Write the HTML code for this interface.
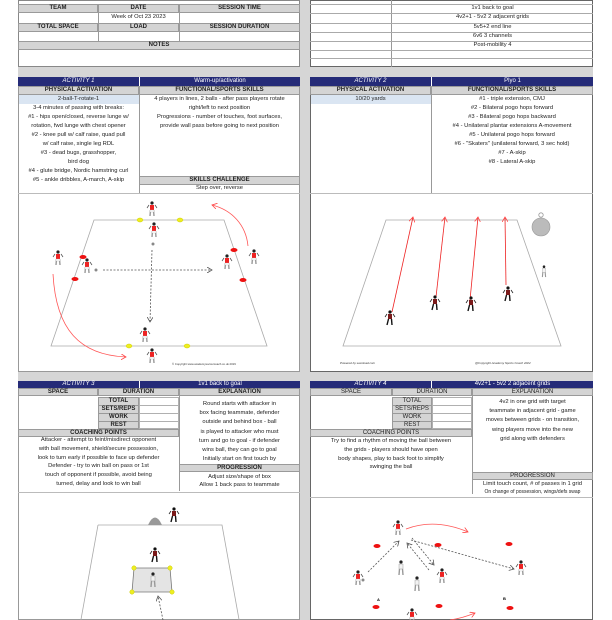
<!DOCTYPE html>
<html><head><meta charset="utf-8"><style>
*{margin:0;padding:0;box-sizing:border-box}
body{width:612px;height:620px;overflow:hidden;background:#fff;position:relative;font-family:"Liberation Sans",sans-serif;color:#222}
.a{position:absolute}
.g{position:absolute;background:#d4d4d4;border:1px solid #9a9a9a;font-size:6px;font-weight:bold;text-align:center;line-height:7px;color:#222}
.n{position:absolute;background:#252b78;color:#fff;font-size:6px;text-align:center;line-height:8px}
.w{position:absolute;background:#fff;border:1px solid #b0b0b0}
.t{position:absolute;font-size:5.8px;text-align:center;line-height:9px;white-space:nowrap;color:#222}
.lb{position:absolute;background:#dae5f2}
</style></head><body>
<div class="a" style="left:18px;top:0;width:575px;height:620px;background:#d6d6d6"></div>
<div class="a" style="left:52px;top:0;width:7px;height:3px;background:#111;border-radius:0 0 4px 4px"></div>

<div class="w" style="left:18px;top:0;width:282px;height:67px;border-color:#888"></div>
<div class="g" style="left:18px;top:4px;width:80px;height:9px">TEAM</div>
<div class="g" style="left:98px;top:4px;width:81px;height:9px">DATE</div>
<div class="g" style="left:179px;top:4px;width:121px;height:9px">SESSION TIME</div>
<div class="t" style="left:98px;top:13px;width:81px">Week of Oct 23 2023</div>
<div class="a" style="left:98px;top:13px;width:1px;height:10px;background:#999"></div>
<div class="a" style="left:179px;top:13px;width:1px;height:10px;background:#999"></div>
<div class="g" style="left:18px;top:23px;width:80px;height:9px">TOTAL SPACE</div>
<div class="g" style="left:98px;top:23px;width:81px;height:9px">LOAD</div>
<div class="g" style="left:179px;top:23px;width:121px;height:9px">SESSION DURATION</div>
<div class="a" style="left:98px;top:32px;width:1px;height:9px;background:#999"></div>
<div class="a" style="left:179px;top:32px;width:1px;height:9px;background:#999"></div>
<div class="g" style="left:18px;top:41px;width:282px;height:9px">NOTES</div>

<div class="w" style="left:310px;top:0;width:283px;height:67px;border-color:#666"></div>
<div class="a" style="left:391px;top:0;width:1px;height:67px;background:#999"></div>
<div class="a" style="left:310px;top:4px;width:283px;height:1px;background:#aaa"></div>
<div class="a" style="left:310px;top:13px;width:283px;height:1px;background:#aaa"></div>
<div class="a" style="left:310px;top:23px;width:283px;height:1px;background:#aaa"></div>
<div class="a" style="left:310px;top:32px;width:283px;height:1px;background:#aaa"></div>
<div class="a" style="left:310px;top:41px;width:283px;height:1px;background:#aaa"></div>
<div class="a" style="left:310px;top:50px;width:283px;height:1px;background:#aaa"></div>
<div class="a" style="left:310px;top:58px;width:283px;height:1px;background:#aaa"></div>
<div class="t" style="left:392px;top:-5px;width:201px">Plyo 1</div>
<div class="t" style="left:392px;top:4px;width:201px">1v1 back to goal</div>
<div class="t" style="left:392px;top:13px;width:201px">4v2+1 - 5v2 2 adjacent grids</div>
<div class="t" style="left:392px;top:23px;width:201px">5v5+2 end line</div>
<div class="t" style="left:392px;top:32px;width:201px">6v6 3 channels</div>
<div class="t" style="left:392px;top:41px;width:201px">Post-mobility 4</div>

<div class="w" style="left:18px;top:77px;width:282px;height:295px;border-color:#999"></div>
<div class="n" style="left:18px;top:77px;width:121px;height:9px;font-style:italic">ACTIVITY 1</div>
<div class="n" style="left:139px;top:77px;width:161px;height:9px;border-left:1px solid #fff">Warm-up/activation</div>
<div class="g" style="left:18px;top:86px;width:121px;height:9px">PHYSICAL ACTIVATION</div>
<div class="g" style="left:139px;top:86px;width:161px;height:9px">FUNCTIONAL/SPORTS SKILLS</div>
<div class="lb" style="left:19px;top:95px;width:120px;height:9px"></div>
<div class="t" style="left:18px;top:95px;width:121px">2-ball-T-rotate-1</div>
<div class="t" style="left:18px;top:104px;width:121px">3-4 minutes of passing with breaks:<br>#1 - hips open/closed, reverse lunge w/<br>rotation, fwd lunge with chest opener<br>#2 - knee pull w/ calf raise, quad pull<br>w/ calf raise, single leg RDL<br>#3 - dead bugs, grasshopper,<br>bird dog<br>#4 - glute bridge, Nordic hamstring curl<br>#5 - ankle dribbles, A-march, A-skip</div>
<div class="a" style="left:139px;top:95px;width:1px;height:99px;background:#999"></div>
<div class="t" style="left:139px;top:95px;width:161px">4 players in lines, 2 balls - after pass players rotate<br>right/left to next position<br>Progressions - number of touches, foot surfaces,<br>provide wall pass before going to next position</div>
<div class="g" style="left:139px;top:176px;width:161px;height:9px">SKILLS CHALLENGE</div>
<div class="t" style="left:139px;top:184px;width:161px">Step over, reverse</div>
<div class="a" style="left:18px;top:193px;width:282px;height:1px;background:#bbb"></div>

<div class="w" style="left:310px;top:77px;width:283px;height:295px;border-color:#666"></div>
<div class="n" style="left:310px;top:77px;width:121px;height:9px;font-style:italic">ACTIVITY 2</div>
<div class="n" style="left:431px;top:77px;width:162px;height:9px;border-left:1px solid #fff">Plyo 1</div>
<div class="g" style="left:310px;top:86px;width:121px;height:9px">PHYSICAL ACTIVATION</div>
<div class="g" style="left:431px;top:86px;width:162px;height:9px">FUNCTIONAL/SPORTS SKILLS</div>
<div class="lb" style="left:311px;top:95px;width:120px;height:9px"></div>
<div class="t" style="left:310px;top:95px;width:121px">10/20 yards</div>
<div class="a" style="left:431px;top:95px;width:1px;height:99px;background:#999"></div>
<div class="t" style="left:431px;top:95px;width:162px">#1 - triple extension, CMJ<br>#2 - Bilateral pogo hops forward<br>#3 - Bilateral pogo hops backward<br>#4 - Unilateral plantar extensions A-movement<br>#5 - Unilateral pogo hops forward<br>#6 - "Skaters" (unilateral forward, 3 sec hold)<br>#7 - A-skip<br>#8 - Lateral A-skip</div>
<div class="a" style="left:310px;top:193px;width:283px;height:1px;background:#bbb"></div>

<div class="w" style="left:18px;top:381px;width:282px;height:239px;border-color:#999"></div>
<div class="n" style="left:18px;top:381px;width:121px;height:8px;font-style:italic;line-height:7px">ACTIVITY 3</div>
<div class="n" style="left:139px;top:381px;width:161px;height:8px;line-height:7px;border-left:1px solid #fff">1v1 back to goal</div>
<div class="g" style="left:18px;top:388px;width:80px;height:8px">SPACE</div>
<div class="g" style="left:98px;top:388px;width:81px;height:8px">DURATION</div>
<div class="g" style="left:179px;top:388px;width:121px;height:8px">EXPLANATION</div>
<div class="g" style="left:98px;top:397px;width:41px;height:9px">TOTAL</div>
<div class="g" style="left:98px;top:405px;width:41px;height:9px">SETS/REPS</div>
<div class="g" style="left:98px;top:413px;width:41px;height:9px">WORK</div>
<div class="g" style="left:98px;top:421px;width:41px;height:8px">REST</div>
<div class="w" style="left:139px;top:397px;width:40px;height:9px"></div>
<div class="w" style="left:139px;top:405px;width:40px;height:9px"></div>
<div class="w" style="left:139px;top:413px;width:40px;height:9px"></div>
<div class="w" style="left:139px;top:421px;width:40px;height:8px"></div>
<div class="g" style="left:18px;top:429px;width:161px;height:8px">COACHING POINTS</div>
<div class="a" style="left:179px;top:396px;width:1px;height:95px;background:#999"></div>
<div class="t" style="left:18px;top:436px;width:161px;line-height:8.8px">Attacker - attempt to feint/misdirect opponent<br>with ball movement, shield/secure possession,<br>look to turn early if possible to face up defender<br>Defender - try to win ball on pass or 1st<br>touch of opponent if possible, avoid being<br>turned, delay and look to win ball</div>
<div class="t" style="left:179px;top:400px;width:121px;line-height:9.2px">Round starts with attacker in<br>box facing teammate, defender<br>outside and behind box - ball<br>is played to attacker who must<br>turn and go to goal - if defender<br>wins ball, they can go to goal<br>Initially start on first touch by<br>receiver, advance to start on pass</div>
<div class="g" style="left:179px;top:464px;width:121px;height:8px">PROGRESSION</div>
<div class="t" style="left:179px;top:473px;width:121px;line-height:8px">Adjust size/shape of box<br>Allow 1 back pass to teammate</div>
<div class="a" style="left:18px;top:492px;width:282px;height:1px;background:#bbb"></div>

<div class="w" style="left:310px;top:381px;width:283px;height:239px;border-color:#666"></div>
<div class="n" style="left:310px;top:381px;width:121px;height:8px;font-style:italic;line-height:7px">ACTIVITY 4</div>
<div class="n" style="left:431px;top:381px;width:162px;height:8px;line-height:7px;border-left:1px solid #fff">4v2+1 - 5v2 2 adjacent grids</div>
<div class="g" style="left:310px;top:388px;width:82px;height:8px;font-weight:normal">SPACE</div>
<div class="g" style="left:392px;top:388px;width:80px;height:8px;font-weight:normal">DURATION</div>
<div class="g" style="left:472px;top:388px;width:121px;height:8px;font-weight:normal">EXPLANATION</div>
<div class="g" style="left:392px;top:397px;width:40px;height:9px;font-weight:normal">TOTAL</div>
<div class="g" style="left:392px;top:405px;width:40px;height:9px;font-weight:normal">SETS/REPS</div>
<div class="g" style="left:392px;top:413px;width:40px;height:9px;font-weight:normal">WORK</div>
<div class="g" style="left:392px;top:421px;width:40px;height:8px;font-weight:normal">REST</div>
<div class="w" style="left:432px;top:397px;width:40px;height:9px"></div>
<div class="w" style="left:432px;top:405px;width:40px;height:9px"></div>
<div class="w" style="left:432px;top:413px;width:40px;height:9px"></div>
<div class="w" style="left:432px;top:421px;width:40px;height:8px"></div>
<div class="g" style="left:310px;top:429px;width:162px;height:8px;font-weight:normal">COACHING POINTS</div>
<div class="a" style="left:472px;top:396px;width:1px;height:98px;background:#999"></div>
<div class="t" style="left:310px;top:437px;width:162px;line-height:8.8px">Try to find a rhythm of moving the ball between<br>the grids - players should have open<br>body shapes, play to back foot to simplify<br>swinging the ball</div>
<div class="t" style="left:472px;top:398px;width:121px;line-height:9.2px">4v2 in one grid with target<br>teammate in adjacent grid - game<br>moves between grids - on transition,<br>wing players move into the new<br>grid along with defenders</div>
<div class="g" style="left:472px;top:472px;width:121px;height:8px;font-weight:normal">PROGRESSION</div>
<div class="t" style="left:472px;top:480px;width:121px;line-height:8px">Limit touch count, # of passes in 1 grid<br><span style="font-size:5px">On change of possession, wings/defs swap</span></div>
<div class="a" style="left:310px;top:497px;width:283px;height:1px;background:#bbb"></div>

<svg class="a" style="left:0;top:0" width="612" height="620" viewBox="0 0 612 620">
<defs>
<marker id="ar" markerWidth="6" markerHeight="6" refX="5" refY="3" orient="auto" markerUnits="userSpaceOnUse"><path d="M0,0 L5,3 L0,6" fill="none" stroke="#f44" stroke-width="0.8"/></marker>
<marker id="ak" markerWidth="6" markerHeight="6" refX="5" refY="3" orient="auto" markerUnits="userSpaceOnUse"><path d="M0,0 L5,3 L0,6" fill="none" stroke="#555" stroke-width="0.8"/></marker>
<symbol id="pr" viewBox="0 0 10 16" overflow="visible"><circle cx="5" cy="2" r="1.6" fill="#222"/><path d="M3,4 h4 v5 h-4z" fill="#e22"/><path d="M2,4 L0,7 M8,4 L10,7" stroke="#555" stroke-width="0.8"/><path d="M3.5,9 L3,15 M6.5,9 L7,15" stroke="#999" stroke-width="1.4"/><path d="M3,9 h4 v2 h-4z" fill="#fff" stroke="#aaa" stroke-width=".3"/></symbol>
<symbol id="pb" viewBox="0 0 10 16" overflow="visible"><circle cx="5" cy="2" r="1.6" fill="#111"/><path d="M3,4 h4 v5 h-4z" fill="#7a1a1a"/><path d="M2,4 L0,7 M8,4 L10,7" stroke="#222" stroke-width="0.8"/><path d="M3.5,9 L2,15 M6.5,9 L7,15" stroke="#111" stroke-width="1.4"/></symbol>
<symbol id="pw" viewBox="0 0 10 16" overflow="visible"><circle cx="5" cy="2" r="1.6" fill="#222"/><path d="M3,4 h4 v5 h-4z" fill="#f2f2f2" stroke="#888" stroke-width=".4"/><path d="M3.5,9 L3,15 M6.5,9 L7,15" stroke="#999" stroke-width="1.4"/></symbol>
</defs>
<path d="M94,220 L224,220 L267,346 L51,346 Z" fill="none" stroke="#aaa" stroke-width="0.8"/>
<g fill="#ee2" stroke="#cc0" stroke-width=".5"><ellipse cx="140" cy="220" rx="3" ry="2"/><ellipse cx="180" cy="220" rx="3" ry="2"/><ellipse cx="129" cy="346" rx="3" ry="2"/><ellipse cx="187" cy="346" rx="3" ry="2"/></g>
<g fill="#e11"><ellipse cx="83" cy="257" rx="3.5" ry="2"/><ellipse cx="75" cy="279" rx="3.5" ry="2"/><ellipse cx="234" cy="250" rx="3.5" ry="2"/><ellipse cx="243" cy="280" rx="3.5" ry="2"/></g>
<use href="#pr" x="147" y="201" width="10" height="16"/><use href="#pr" x="149" y="222" width="10" height="16"/>
<use href="#pr" x="53" y="250" width="10" height="16"/><use href="#pr" x="82" y="258" width="10" height="16"/>
<use href="#pr" x="222" y="254" width="10" height="16"/><use href="#pr" x="249" y="249" width="10" height="16"/>
<use href="#pr" x="140" y="327" width="10" height="16"/><use href="#pr" x="147" y="348" width="10" height="16"/>
<circle cx="96" cy="270" r="1.5" fill="#888"/><circle cx="153" cy="244" r="1.5" fill="#888"/>
<path d="M103,270 L212,270" stroke="#555" stroke-width=".8" stroke-dasharray="2,1.5" marker-end="url(#ak)"/>
<path d="M152,250 L150,322" stroke="#555" stroke-width=".8" stroke-dasharray="2,1.5" marker-end="url(#ak)"/>
<path d="M53,274 C56,330 80,355 126,357" fill="none" stroke="#f55" stroke-width=".8" marker-end="url(#ar)"/>
<path d="M248,246 C246,225 232,210 212,205" fill="none" stroke="#f55" stroke-width=".8" marker-end="url(#ar)"/>
<text x="172" y="365" font-size="2.8" fill="#333" font-family="Liberation Sans">© Copyright www.academysoccercoach.co.uk 2019</text>
<path d="M386,220 L517,220 L561,346 L343,346 Z" fill="none" stroke="#aaa" stroke-width="0.8"/>
<g stroke="#e22" stroke-width=".8"><path d="M392,312 L413,217" marker-end="url(#ar)"/><path d="M436,297 L445,217" marker-end="url(#ar)"/><path d="M470,300 L478,217" marker-end="url(#ar)"/><path d="M506,285 L505,217" marker-end="url(#ar)"/></g>
<use href="#pb" x="385" y="310" width="10" height="16"/><use href="#pb" x="430" y="295" width="10" height="16"/><use href="#pb" x="466" y="296" width="10" height="16"/><use href="#pb" x="503" y="286" width="10" height="16"/><use href="#pw" x="540" y="265" width="8" height="13"/>
<circle cx="541" cy="227" r="9" fill="#bbb" stroke="#999" stroke-width=".6"/><circle cx="541" cy="215" r="2.2" fill="none" stroke="#999" stroke-width=".8"/>
<text x="340" y="364" font-size="3" font-style="italic" fill="#333" font-family="Liberation Sans">Powered by sacoload.com</text>
<text x="475" y="364" font-size="3" font-style="italic" fill="#333" font-family="Liberation Sans">@Copyright Academy Sports Coach 2022</text>
<path d="M98,525 L222,525 L240,625 M80,625 L98,525" fill="none" stroke="#aaa" stroke-width="0.8"/>
<path d="M148,525 Q155,510 162,525 Z" fill="#999"/>
<use href="#pb" x="169" y="507" width="10" height="16"/>
<path d="M134,568 L170,568 L172,592 L132,592 Z" fill="#e4e4e4" stroke="#777" stroke-width=".8"/>
<g fill="#ee2" stroke="#cc0" stroke-width=".5"><circle cx="134" cy="568" r="2.2"/><circle cx="170" cy="568" r="2.2"/><circle cx="132" cy="592" r="2.2"/><circle cx="172" cy="592" r="2.2"/></g>
<use href="#pb" x="150" y="547" width="10" height="16"/><use href="#pw" x="148" y="572" width="10" height="16"/>
<path d="M163,620 L158,596" stroke="#555" stroke-width=".8" stroke-dasharray="2,1.5" marker-end="url(#ak)"/>
<g fill="#e11"><ellipse cx="377" cy="546" rx="3.5" ry="2"/><ellipse cx="438" cy="545" rx="3.5" ry="2"/><ellipse cx="509" cy="544" rx="3.5" ry="2"/><ellipse cx="376" cy="607" rx="3.5" ry="2"/><ellipse cx="439" cy="606" rx="3.5" ry="2"/><ellipse cx="510" cy="608" rx="3.5" ry="2"/></g>
<use href="#pr" x="393" y="520" width="10" height="16"/><use href="#pr" x="353" y="570" width="10" height="16"/><use href="#pr" x="437" y="568" width="10" height="16"/><use href="#pr" x="516" y="560" width="10" height="16"/><use href="#pr" x="407" y="608" width="10" height="16"/>
<use href="#pw" x="396" y="560" width="10" height="16"/><use href="#pw" x="412" y="576" width="10" height="16"/>
<text x="377" y="601" font-size="4" font-weight="bold" font-family="Liberation Sans">A</text><text x="503" y="600" font-size="4" font-weight="bold" font-family="Liberation Sans">B</text>
<path d="M406,529 Q435,518 468,532" fill="none" stroke="#f55" stroke-width=".8" marker-end="url(#ar)"/>
<path d="M450,620 Q463,618 475,613" fill="none" stroke="#f55" stroke-width=".8" marker-end="url(#ar)"/>
<g stroke="#555" stroke-width=".8" stroke-dasharray="2,1.5" fill="none"><path d="M368,572 L399,541" marker-end="url(#ak)"/><path d="M411,540 L514,569" marker-end="url(#ak)"/><path d="M429,570 L407,543" marker-end="url(#ak)"/><path d="M412,538 L434,565" marker-end="url(#ak)"/></g>
<circle cx="363" cy="580" r="1.5" fill="#888"/>
</svg>
</body></html>
